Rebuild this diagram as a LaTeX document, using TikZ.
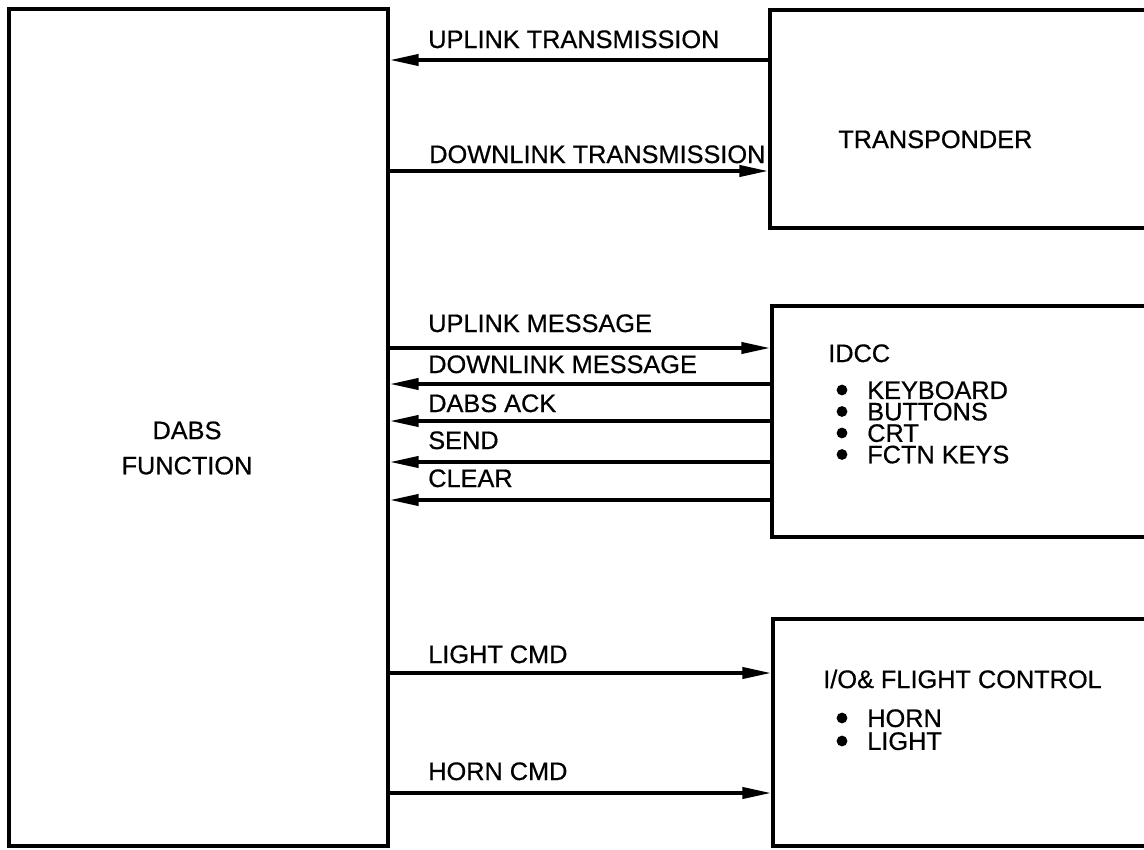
\documentclass[tikz,border=0pt]{standalone}
\usepackage{fontspec}
\setmainfont{Liberation Sans}[FakeBold=0.6]
\usetikzlibrary{arrows.meta, positioning, fit}

\begin{document}
\begin{tikzpicture}[
    x=0.025cm, y=-0.025cm,
    font=\fontsize{18}{21}\selectfont,
    % Styles
    block/.style = {rectangle, draw=black, line width=2.7pt, inner sep=0pt},
    sig/.style = {line width=2.5pt, -{Triangle[length=0.72cm, width=0.28cm]}},
    siglabel/.style = {anchor=base west, inner sep=0pt},
    boxlabel/.style = {anchor=base west, inner sep=0pt},
    itemlist/.style = {anchor=north west, inner sep=0pt, align=left}
]

\useasboundingbox (0,0) rectangle (1144,849);
\clip (0,0) rectangle (1144,849);

% --- BLOCKS ---
\node[block, fit={(9,9) (388,846)}] (dabs) {};
\node[block, fit={(770,10) (1175,228)}] (xpdr) {};
\node[block, fit={(772,306) (1175,537)}] (idcc) {};
\node[block, fit={(773,619) (1175,846)}] (io) {};

\node[align=center, font=\fontsize{18}{25}\selectfont] (dabs_txt) at (187,448) {DABS\\FUNCTION};
\node[boxlabel] (xpdr_txt) at (838,148) {TRANSPONDER};

\node[boxlabel] (idcc_txt) at (828,362) {IDCC};
\node[itemlist, font=\fontsize{18}{15.25}\selectfont] (idcc_list) at (867,381)
    {KEYBOARD\\ BUTTONS\\ CRT\\ FCTN KEYS};
\foreach \y in {390, 411.5, 433, 454.5}
    \fill (842,\y) circle (0.135cm);

\node[boxlabel] (io_txt) at (823,688) {I/O\& FLIGHT CONTROL};
\node[itemlist, font=\fontsize{18}{16.3}\selectfont] (io_list) at (867,709)
    {HORN\\ LIGHT};
\foreach \y in {718, 741}
    \fill (842,\y) circle (0.135cm);

% --- TRANSPONDER LINKS ---
\draw[sig] (xpdr.west |- 0,60) -- (dabs.east |- 0,60);
\node[siglabel] (up_tx) at (428,48) {UPLINK TRANSMISSION};
\draw[sig] (dabs.east |- 0,171) -- (xpdr.west |- 0,171);
\node[siglabel] (down_tx) at (429,163) {DOWNLINK TRANSMISSION};

% --- IDCC LINKS ---
\draw[sig] (dabs.east |- 0,348) -- (idcc.west |- 0,348);
\node[siglabel] (up_msg) at (428,332) {UPLINK MESSAGE};
\draw[sig] (idcc.west |- 0,384) -- (dabs.east |- 0,384);
\node[siglabel] (down_msg) at (428,373) {DOWNLINK MESSAGE};
\draw[sig] (idcc.west |- 0,421) -- (dabs.east |- 0,421);
\node[siglabel] (ack) at (428,412) {DABS ACK};
\draw[sig] (idcc.west |- 0,462) -- (dabs.east |- 0,462);
\node[siglabel] (send) at (428,449) {SEND};
\draw[sig] (idcc.west |- 0,500) -- (dabs.east |- 0,500);
\node[siglabel] (clear) at (428,487) {CLEAR};

% --- I/O LINKS ---
\draw[sig] (dabs.east |- 0,673) -- (io.west |- 0,673);
\node[siglabel] (light_cmd) at (428,663) {LIGHT CMD};
\draw[sig] (dabs.east |- 0,793) -- (io.west |- 0,793);
\node[siglabel] (horn_cmd) at (428,780) {HORN CMD};

\end{tikzpicture}
\end{document}
